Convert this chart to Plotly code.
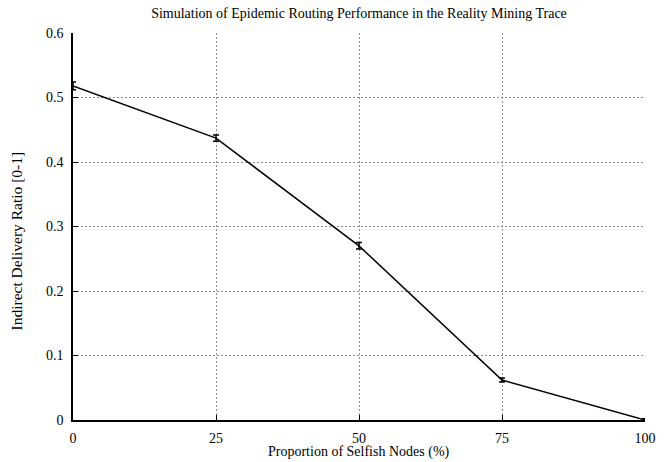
import plotly.graph_objects as go

selfish_pct = [0, 25, 50, 75, 100]
delivery_ratio = [0.518, 0.437, 0.270, 0.062, 0.0]
error_margin = [0.006, 0.005, 0.005, 0.003, 0.002]
x_ticks = [0, 25, 50, 75, 100]
y_ticks = [0, 0.1, 0.2, 0.3, 0.4, 0.5, 0.6]
y_tick_labels = ["0", "0.1", "0.2", "0.3", "0.4", "0.5", "0.6"]
title_text = "Simulation of Epidemic Routing Performance in the Reality Mining Trace"
x_title = "Proportion of Selfish Nodes (%)"
y_title = "Indirect Delivery Ratio [0-1]"

font_family = "Liberation Serif, DejaVu Serif, serif"

fig = go.Figure()
fig.add_trace(go.Scatter(
    x=selfish_pct, y=delivery_ratio,
    mode="lines",
    line=dict(color="black", width=1.5),
    error_y=dict(type="data", array=error_margin, visible=True,
                 color="black", thickness=1.5, width=3),
    showlegend=False,
))

W, H = 667, 462
grid_style = dict(showgrid=True, gridcolor="#8c8c8c", griddash="2px,2px", gridwidth=1)
fig.update_layout(
    width=W, height=H,
    margin=dict(l=73, r=22, t=33, b=42),
    paper_bgcolor="white", plot_bgcolor="white",
    font=dict(family=font_family, size=14, color="black"),
    title=dict(text=title_text,
               x=0.5, xanchor="center", xref="paper", y=1 - 13 / H, yanchor="middle",
               font=dict(size=14)),
    xaxis=dict(
        range=[0, 100], tickvals=x_ticks, automargin=False,
        showline=True, linecolor="black", linewidth=1.5, mirror=False,
        ticks="inside", ticklen=5, tickcolor="black",
        ticklabelstandoff=4,
        zeroline=False, tickfont=dict(size=14), **grid_style,
    ),
    yaxis=dict(
        range=[0, 0.6], tickvals=y_ticks, ticktext=y_tick_labels, automargin=False,
        showline=True, linecolor="black", linewidth=1.5, mirror=False,
        ticks="inside", ticklen=5, tickcolor="black",
        ticklabelstandoff=5,
        zeroline=False, tickfont=dict(size=14), **grid_style,
    ),
    annotations=[
        dict(text=x_title, xref="paper", yref="paper", x=0.5, y=0,
             xanchor="center", yanchor="middle", yshift=-32, showarrow=False,
             font=dict(size=14)),
        dict(text=y_title, xref="paper", yref="paper", x=0, y=0.5,
             xanchor="center", yanchor="middle", xshift=-57, yshift=-15,
             textangle=-90, showarrow=False, font=dict(size=15.5)),
    ],
)

fig.write_html("out.html", config={"displayModeBar": False},
               post_script="document.body.style.margin='0';")
